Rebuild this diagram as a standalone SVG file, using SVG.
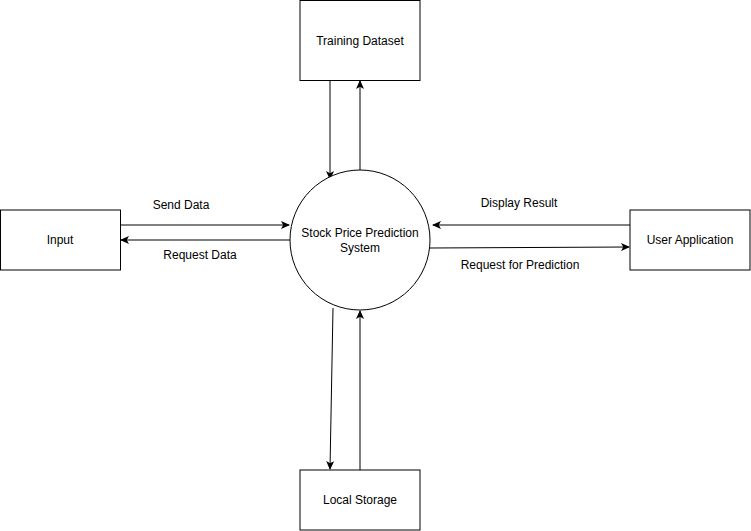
<svg xmlns="http://www.w3.org/2000/svg" width="751" height="531" viewBox="0 0 751 531">
<style>
.box{fill:#fff;stroke:#000;stroke-width:1}
.lbl{font-family:"Liberation Sans",Arial,sans-serif;font-size:12px;fill:#000;text-anchor:middle}
.edge{fill:none;stroke:#000;stroke-width:1}
</style>
<defs>
<marker id="arr" viewBox="0 0 9 8" refX="8" refY="4" markerWidth="9" markerHeight="8" markerUnits="userSpaceOnUse" orient="auto">
<path d="M0,0 L9,4 L0,8 L2.2,4 Z" fill="#000"/>
</marker>
</defs>
<rect width="751" height="531" fill="#fff"/>
<g id="connectors">
<line class="edge" x1="330" y1="80" x2="330" y2="179" marker-end="url(#arr)"/>
<line class="edge" x1="360" y1="170" x2="360" y2="81" marker-end="url(#arr)"/>
<line class="edge" x1="120" y1="225" x2="289" y2="225" marker-end="url(#arr)"/>
<line class="edge" x1="290" y1="240" x2="121" y2="240" marker-end="url(#arr)"/>
<line class="edge" x1="630" y1="225" x2="433" y2="225" marker-end="url(#arr)"/>
<line class="edge" x1="430" y1="248" x2="629" y2="247" marker-end="url(#arr)"/>
<line class="edge" x1="333" y1="308" x2="330" y2="469" marker-end="url(#arr)"/>
<line class="edge" x1="360" y1="470" x2="360" y2="311" marker-end="url(#arr)"/>
<text class="lbl" x="181" y="209">Send Data</text>
<text class="lbl" x="200" y="259">Request Data</text>
<text class="lbl" x="519" y="207">Display Result</text>
<text class="lbl" x="520" y="269">Request for Prediction</text>
</g>
<g id="system">
<circle class="box" cx="360" cy="240" r="70"/>
<text class="lbl" x="360" y="237">Stock Price Prediction</text>
<text class="lbl" x="360" y="252">System</text>
</g>
<g id="training">
<rect class="box" x="300" y="0.5" width="120" height="80"/>
<text class="lbl" x="360" y="45">Training Dataset</text>
</g>
<g id="input">
<rect class="box" x="0.5" y="210" width="120" height="60"/>
<text class="lbl" x="60" y="244">Input</text>
</g>
<g id="userapp">
<rect class="box" x="630" y="210" width="120" height="60"/>
<text class="lbl" x="690" y="244">User Application</text>
</g>
<g id="storage">
<rect class="box" x="300" y="470" width="120" height="60"/>
<text class="lbl" x="360" y="504">Local Storage</text>
</g>
</svg>
